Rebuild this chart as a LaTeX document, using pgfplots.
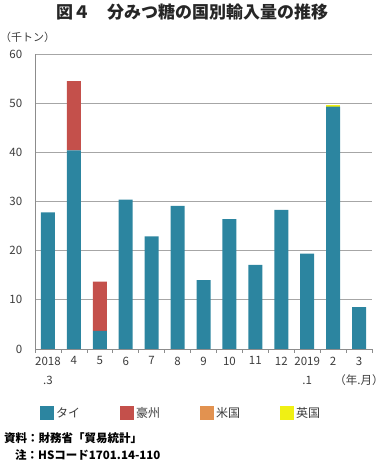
\documentclass[border=0pt]{standalone}
\usepackage{fontspec}
\setmainfont{Noto Sans CJK JP}
\usepackage{pgfplots}
\pgfplotsset{compat=1.18}
\definecolor{thai}{RGB}{44,133,160}
\definecolor{aus}{RGB}{196,80,75}
\definecolor{usa}{RGB}{226,146,80}
\definecolor{uk}{RGB}{240,240,20}
\definecolor{txt}{RGB}{60,60,60}
\begin{document}
\begin{tikzpicture}
\useasboundingbox (0,0) rectangle (386pt,462pt);
\node[font=\bfseries\fontsize{17}{20}\selectfont, text=black!85] at (192pt,450pt) {図４　分みつ糖の国別輸入量の推移};
\node[font=\fontsize{11}{13}\selectfont, text=txt, anchor=west, inner sep=0pt] at (0pt,425pt) {（千トン）};
\begin{axis}[
  at={(35pt,113pt)}, anchor=south west,
  scale only axis, width=337pt, height=295pt,
  ymin=0, ymax=60, ytick={0,10,...,60},
  xmin=-0.5, xmax=12.5,
  ybar stacked, bar width=14pt,
  ymajorgrids, grid style={draw=black!35, line width=0.9pt},
  axis x line*=bottom, axis y line*=left,
  axis line style={draw=black!45, line width=0.9pt},
  xtick={0,...,12},
  xticklabels={{2018\\.3},4,5,6,7,8,9,10,11,12,{2019\\.1},2,{3\\（年.月）}},
  x tick label style={align=center, font=\fontsize{11.5}{19}\selectfont, text=txt},
  y tick label style={font=\fontsize{11.5}{13}\selectfont, text=txt, xshift=-5pt},
  /pgf/number format/assume math mode=true,
  major x tick style={draw=none},
  minor xtick={-0.5,0.5,...,12.5},
  minor x tick style={draw=black!45, line width=0.6pt},
  minor tick length=4pt,
  tick align=outside,
  major y tick style={draw=none},
  legend columns=4,
  legend style={at={(rel axis cs:0,0)}, anchor=west, xshift=5pt, yshift=-64pt,
    draw=none, fill=none, inner sep=0pt, font=\fontsize{12}{14}\selectfont, text=txt,
    /tikz/every even column/.append style={column sep=38pt}},
  legend cell align=left,
  legend image code/.code={\fill[#1] (0pt,-7pt) rectangle (14pt,7pt);},
]
\addplot[fill=thai, draw=none] coordinates {(0,27.8) (1,40.4) (2,3.7) (3,30.4) (4,22.9) (5,29.1) (6,14.0) (7,26.4) (8,17.1) (9,28.3) (10,19.4) (11,49.3) (12,8.5)};
\addplot[fill=aus, draw=none] coordinates {(0,0) (1,14.1) (2,10.0) (3,0) (4,0) (5,0) (6,0) (7,0) (8,0) (9,0) (10,0) (11,0) (12,0)};
\addplot[fill=usa, draw=none] coordinates {(0,0) (1,0) (2,0) (3,0) (4,0) (5,0) (6,0) (7,0) (8,0) (9,0) (10,0) (11,0) (12,0)};
\addplot[fill=uk, draw=none] coordinates {(0,0) (1,0) (2,0) (3,0) (4,0) (5,0) (6,0) (7,0) (8,0) (9,0) (10,0) (11,0.35) (12,0)};
\legend{タイ,豪州,米国,英国}
\end{axis}
\node[font=\bfseries\fontsize{11.5}{13}\selectfont, anchor=west, inner sep=0pt] at (4pt,24pt) {資料：財務省「貿易統計」};
\node[font=\bfseries\fontsize{11.5}{13}\selectfont, anchor=west, inner sep=0pt] at (15pt,7pt) {注：HSコード1701.14-110};
\end{tikzpicture}
\end{document}
